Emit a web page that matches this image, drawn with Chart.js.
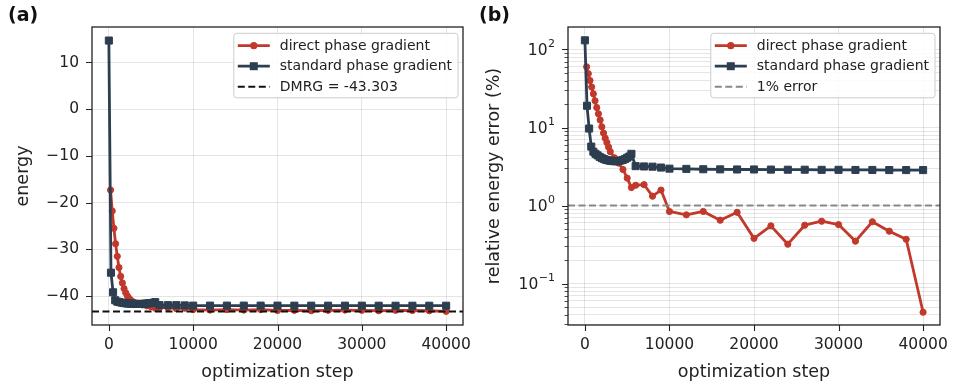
<!DOCTYPE html>
<html>
<head>
<meta charset="utf-8">
<script src="https://cdn.jsdelivr.net/npm/chart.js@4.4.0/dist/chart.umd.min.js"></script>
<style>
  body { margin: 0; background: #fff; width: 955px; height: 387px; position: relative; overflow: hidden; font-family: 'DejaVu Sans', sans-serif; }
  canvas { position: absolute; top: 0; }
  #energyChart { left: 0; }
  #errorChart { left: 478px; }
  .panel { position: absolute; top: 3px; font-weight: bold; font-size: 19px; color: #111; }
</style>
</head>
<body>
<canvas id="energyChart" width="478" height="387"></canvas>
<canvas id="errorChart" width="477" height="387"></canvas>
<div class="panel" style="left:8px;">(a)</div>
<div class="panel" style="left:479px;">(b)</div>
<script>
// Data
const DMRG_ENERGY = -43.303;
const ERROR_LEVEL = 1;

const directSteps = [200, 400, 600, 800, 1000, 1200, 1400, 1600, 1800, 2000, 2200, 2400, 2600, 2800, 3000,
    3500, 4000, 4500, 5000, 5500, 6000, 7000, 8000, 9000, 10000, 12000, 14000, 16000, 18000, 20000,
    22000, 24000, 26000, 28000, 30000, 32000, 34000, 36000, 38000, 40000];
const directEnergy = [-17.3, -21.8, -25.5, -28.8, -31.5, -33.9, -35.8, -37.2, -38.4, -39.3, -40.0, -40.5, -40.9, -41.2, -41.4,
    -41.7, -41.9, -42.1, -42.3, -42.6, -42.5, -42.5, -42.7, -42.6, -42.9, -43.0, -42.9, -43.0, -42.9, -43.1,
    -43.05, -43.15, -43.05, -43.0, -43.05, -43.15, -43.05, -43.1, -43.15, -43.28];
const directError = [60, 49, 40, 33, 27, 22, 18, 15, 12.5, 10.2, 8.5, 7.3, 6.4, 5.6, 4.9,
    4.1, 3.5, 2.9, 2.25, 1.7, 1.82, 1.85, 1.32, 1.58, 0.84, 0.76, 0.84, 0.65, 0.82, 0.38,
    0.55, 0.32, 0.56, 0.63, 0.57, 0.35, 0.62, 0.47, 0.37, 0.043];

const standardSteps = [0, 250, 500, 750, 1000, 1250, 1500, 1750, 2000, 2250, 2500, 2750, 3000, 3250, 3500, 3750,
    4000, 4250, 4500, 4750, 5000, 5250, 5500, 6000, 7000, 8000, 9000, 10000, 12000, 14000, 16000,
    18000, 20000, 22000, 24000, 26000, 28000, 30000, 32000, 34000, 36000, 38000, 40000];
const standardEnergy = [14.7, -35.0, -39.2, -40.9, -41.2, -41.3, -41.4, -41.5, -41.55, -41.6, -41.62, -41.65, -41.67, -41.68, -41.7, -41.7,
    -41.68, -41.65, -41.6, -41.55, -41.5, -41.45, -41.3, -41.95, -41.95, -41.95, -42.0, -42.05, -42.05, -42.05, -42.05,
    -42.05, -42.05, -42.06, -42.06, -42.06, -42.06, -42.06, -42.07, -42.07, -42.07, -42.07, -42.07];
const standardError = [131, 19, 9.7, 5.7, 4.9, 4.6, 4.4, 4.2, 4.05, 3.95, 3.85, 3.8, 3.75, 3.72, 3.7, 3.7,
    3.72, 3.78, 3.85, 3.95, 4.1, 4.25, 4.6, 3.2, 3.17, 3.15, 3.07, 2.97, 2.95, 2.92, 2.91,
    2.9, 2.9, 2.89, 2.88, 2.88, 2.87, 2.87, 2.86, 2.86, 2.85, 2.85, 2.85];

const stepTicks = [0, 10000, 20000, 30000, 40000];
const energyTicks = [-40, -30, -20, -10, 0, 10];
const errorTicks = [0.1, 1, 10, 100];
const errorTickExponents = ['\u22121', '0', '1', '2'];

const X_MIN = -2000, X_MAX = 42000;
const RED = '#c0392b';
const NAVY = '#2c3e50';
const GRID = 'rgba(0, 0, 0, 0.1)';
const INK = '#222222';
const TICK_FONT = 15.5;

Chart.defaults.font.family = "'DejaVu Sans', sans-serif";
Chart.defaults.font.size = TICK_FONT;
Chart.defaults.color = INK;
Chart.defaults.animation = false;

function points(xs, ys) {
    return xs.map((x, i) => ({ x: x, y: ys[i] }));
}

function minus(v) {
    return v < 0 ? '\u2212' + Math.abs(v) : String(v);
}

function seriesDataset(label, xs, ys, color, marker, order) {
    return {
        label: label,
        data: points(xs, ys),
        borderColor: color,
        backgroundColor: color,
        borderWidth: 2.8,
        borderJoinStyle: 'round',
        tension: 0,
        pointStyle: marker,
        pointRadius: marker === 'rect' ? 5 : 3.1,
        pointBorderWidth: 1,
        pointBorderColor: color,
        pointBackgroundColor: color,
        order: order
    };
}

function refDataset(label, y, color) {
    return {
        label: label,
        data: points([X_MIN, X_MAX], [y, y]),
        borderColor: color,
        borderWidth: 2,
        borderDash: [7, 3.5],
        pointRadius: 0,
        order: 1
    };
}

// Legend drawn inside the plot, upper right, like matplotlib
function drawLegend(chart) {
    const ctx = chart.ctx, a = chart.chartArea;
    const items = chart.data.datasets;
    ctx.font = "14px 'DejaVu Sans'";
    const textW = Math.max(...items.map(d => ctx.measureText(d.label).width));
    const w = 46 + textW + 6, h = 64.5;
    const right = a.right - 5, top = a.top + 6.3, left = right - w;

    ctx.beginPath();
    ctx.roundRect(left, top, w, h, 3);
    ctx.fillStyle = 'rgba(255, 255, 255, 0.85)';
    ctx.fill();
    ctx.strokeStyle = '#cccccc';
    ctx.lineWidth = 1;
    ctx.stroke();

    items.forEach((d, i) => {
        const cy = top + 12.4 + i * 20.5;
        ctx.save();
        ctx.strokeStyle = d.borderColor;
        ctx.lineWidth = d.borderWidth;
        ctx.setLineDash(d.borderDash || []);
        ctx.beginPath();
        ctx.moveTo(left + 4, cy);
        ctx.lineTo(left + 36, cy);
        ctx.stroke();
        ctx.restore();

        if (d.pointRadius > 0) {
            ctx.fillStyle = d.borderColor;
            ctx.beginPath();
            if (d.pointStyle === 'rect') {
                ctx.rect(left + 20 - 4, cy - 4, 8, 8);
            } else {
                ctx.arc(left + 20, cy, 3.6, 0, Math.PI * 2);
            }
            ctx.fill();
        }

        ctx.fillStyle = INK;
        ctx.textBaseline = 'middle';
        ctx.textAlign = 'left';
        ctx.fillText(d.label, left + 46, cy + 0.5);
    });
}

// Power-of-ten labels with a raised exponent, as matplotlib's mathtext does
function drawPowerLabels(chart) {
    const ctx = chart.ctx, a = chart.chartArea, ys = chart.scales.y;
    const xRight = a.left - 13;
    ctx.fillStyle = INK;
    ctx.textBaseline = 'middle';
    ctx.textAlign = 'right';
    errorTicks.forEach((v, i) => {
        const py = ys.getPixelForValue(v);
        ctx.font = "11px 'DejaVu Sans'";
        const expW = ctx.measureText(errorTickExponents[i]).width;
        ctx.fillText(errorTickExponents[i], xRight, py - 5);
        ctx.font = TICK_FONT + "px 'DejaVu Sans'";
        ctx.fillText('10', xRight - expW - 0.5, py + 1.5);
    });
}

// Tick marks, axes frame and legend
const axesDecor = {
    id: 'axesDecor',
    afterDraw(chart) {
        const ctx = chart.ctx, a = chart.chartArea;
        const xs = chart.scales.x, ys = chart.scales.y;
        const isLog = ys.type === 'logarithmic';
        ctx.save();
        ctx.strokeStyle = INK;

        ctx.lineWidth = 1.1;
        ctx.beginPath();
        xs.ticks.forEach(t => {
            const px = Math.round(xs.getPixelForValue(t.value)) + 0.5;
            ctx.moveTo(px, a.bottom);
            ctx.lineTo(px, a.bottom + 6);
        });
        ys.ticks.forEach(t => {
            if (isLog && !errorTicks.some(m => Math.abs(m - t.value) / m < 1e-6)) return;
            const py = Math.round(ys.getPixelForValue(t.value)) + 0.5;
            ctx.moveTo(a.left, py);
            ctx.lineTo(a.left - 6, py);
        });
        ctx.stroke();

        if (isLog) {
            ctx.lineWidth = 0.8;
            ctx.beginPath();
            ys.ticks.forEach(t => {
                if (errorTicks.some(m => Math.abs(m - t.value) / m < 1e-6)) return;
                const py = Math.round(ys.getPixelForValue(t.value)) + 0.5;
                ctx.moveTo(a.left, py);
                ctx.lineTo(a.left - 3.5, py);
            });
            ctx.stroke();
            drawPowerLabels(chart);
        }

        ctx.lineWidth = 1.3;
        ctx.strokeRect(a.left, a.top, a.right - a.left, a.bottom - a.top);

        drawLegend(chart);
        ctx.restore();
    }
};

function stepAxis() {
    return {
        type: 'linear',
        min: X_MIN,
        max: X_MAX,
        afterBuildTicks: s => { s.ticks = stepTicks.map(v => ({ value: v })); },
        afterFit: s => { s.height = 62; s.paddingLeft = 0; s.paddingRight = 0; },
        ticks: { callback: v => String(v), padding: 11, maxRotation: 0, autoSkip: false },
        grid: { color: GRID, drawTicks: false },
        border: { display: false },
        title: { display: true, text: 'optimization step', font: { size: 17.5 }, padding: { top: 4, bottom: 4 } }
    };
}

// Panel (a): energy
new Chart(document.getElementById('energyChart'), {
    type: 'line',
    data: {
        datasets: [
            seriesDataset('direct phase gradient', directSteps, directEnergy, RED, 'circle', 3),
            seriesDataset('standard phase gradient', standardSteps, standardEnergy, NAVY, 'rect', 2),
            refDataset('DMRG = ' + DMRG_ENERGY.toFixed(3), DMRG_ENERGY, '#111111')
        ]
    },
    options: {
        responsive: false,
        layout: { padding: { left: 8, top: 27, right: 15, bottom: 0 } },
        plugins: { legend: { display: false }, tooltip: { enabled: false } },
        scales: {
            x: stepAxis(),
            y: {
                type: 'linear',
                min: -46.2,
                max: 17.6,
                afterBuildTicks: s => { s.ticks = energyTicks.map(v => ({ value: v })); },
                afterFit: s => { s.width = 84; s.paddingTop = 0; s.paddingBottom = 0; },
                ticks: { callback: v => minus(v), padding: 13, autoSkip: false },
                grid: { color: GRID, drawTicks: false },
                border: { display: false },
                title: { display: true, text: 'energy', font: { size: 17.5 }, padding: { top: 5, bottom: 0 } }
            }
        }
    },
    plugins: [axesDecor]
});

// Panel (b): relative energy error, log scale
const errorGrid = [];
errorTicks.concat([1000]).forEach(base => {
    for (let m = 1; m <= 9; m++) {
        const v = base / 10 * m;
        if (v >= 0.0295 && v <= 194) errorGrid.push(v);
    }
});

new Chart(document.getElementById('errorChart'), {
    type: 'line',
    data: {
        datasets: [
            seriesDataset('direct phase gradient', directSteps, directError, RED, 'circle', 3),
            seriesDataset('standard phase gradient', standardSteps, standardError, NAVY, 'rect', 2),
            refDataset(ERROR_LEVEL + '% error', ERROR_LEVEL, '#888888')
        ]
    },
    options: {
        responsive: false,
        layout: { padding: { left: 2, top: 27, right: 15, bottom: 0 } },
        plugins: { legend: { display: false }, tooltip: { enabled: false } },
        scales: {
            x: stepAxis(),
            y: {
                type: 'logarithmic',
                min: 0.0295,
                max: 194,
                afterBuildTicks: s => { s.ticks = errorGrid.map(v => ({ value: v })); },
                afterFit: s => { s.width = 88; s.paddingTop = 0; s.paddingBottom = 0; },
                ticks: { display: false, autoSkip: false },
                grid: { color: GRID, drawTicks: false },
                border: { display: false },
                title: { display: true, text: 'relative energy error (%)', font: { size: 17.5 }, padding: { top: 4, bottom: 0 } }
            }
        }
    },
    plugins: [axesDecor]
});
</script>
</body>
</html>
